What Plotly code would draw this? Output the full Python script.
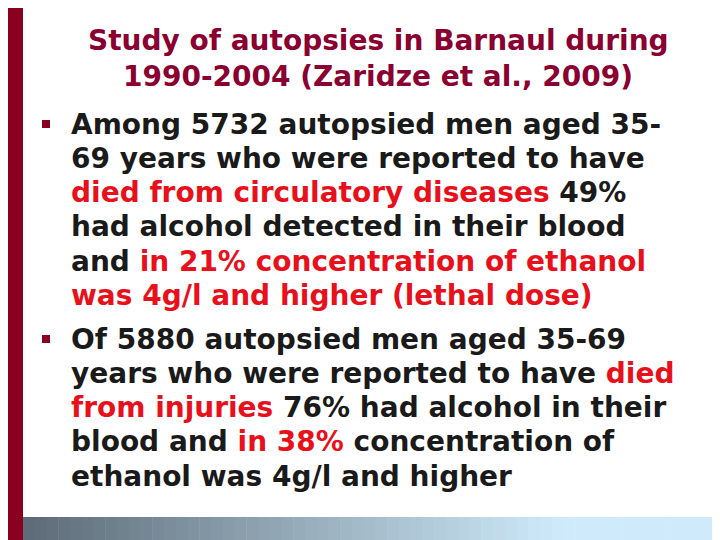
import plotly.graph_objects as go

title_lines = ["Study of autopsies in Barnaul during", "1990-2004 (Zaridze et al., 2009)"]
bullet1 = [
    "Among 5732 autopsied men aged 35-",
    "69 years who were reported to have",
    "<span style='color:#e8101a'>died from circulatory diseases</span> 49%",
    "had alcohol detected in their blood",
    "and <span style='color:#e8101a'>in 21% concentration of ethanol</span>",
    "<span style='color:#e8101a'>was 4g/l and higher (lethal dose)</span>",
]
bullet2 = [
    "Of 5880 autopsied men aged 35-69",
    "years who were reported to have <span style='color:#e8101a'>died</span>",
    "<span style='color:#e8101a'>from injuries</span> 76% had alcohol in their",
    "blood and <span style='color:#e8101a'>in 38%</span> concentration of",
    "ethanol was 4g/l and higher",
]

W, H = 720, 540
OFF = 8  # page body margin compensation
fig = go.Figure()
fig.update_layout(width=W, height=H, margin=dict(l=0, r=0, t=0, b=0),
                  paper_bgcolor="white", plot_bgcolor="white",
                  xaxis=dict(visible=False, range=[OFF, W + OFF]),
                  yaxis=dict(visible=False, range=[H + OFF, OFF]),
                  showlegend=False)
font = dict(family="DejaVu Sans", size=28, color="#1a1a1a")
shapes = []
shapes.append(dict(type="rect", xref="x", yref="y", x0=0, x1=23, y0=0, y1=H + OFF,
                   fillcolor="#8a0020", line_width=0, layer="below"))
n = 60
c0 = (0x5d, 0x6c, 0x78); c1 = (0xcf, 0xeb, 0xfb)
for i in range(n):
    t = i / (n - 1)
    c = tuple(int(c0[k] + (c1[k] - c0[k]) * min(1, t * 1.3)) for k in range(3))
    x0 = 23 + (W + OFF - 23) * i / n
    shapes.append(dict(type="rect", xref="x", yref="y", x0=x0, x1=23 + (W + OFF - 23) * (i + 1) / n + 0.5,
                       y0=517, y1=H + OFF, fillcolor="rgb(%d,%d,%d)" % c, line_width=0, layer="below"))
for by in (124, 339):
    shapes.append(dict(type="rect", xref="x", yref="y", x0=42, x1=50, y0=by - 4, y1=by + 4,
                       fillcolor="#8a0020", line_width=0))
fig.update_layout(shapes=shapes)

anns = []
for i, t in enumerate(title_lines):
    anns.append(dict(x=378, y=40 + 36 * i, xref="x", yref="y", text="<b>%s</b>" % t,
                     showarrow=False, xanchor="center", yanchor="middle",
                     font=dict(family="DejaVu Sans", size=28, color="#8a0030")))
for start, lines in ((124, bullet1), (339, bullet2)):
    for i, t in enumerate(lines):
        anns.append(dict(x=69, y=start + 34.3 * i, xref="x", yref="y", text="<b>%s</b>" % t,
                         showarrow=False, xanchor="left", yanchor="middle", font=font))
fig.update_layout(annotations=anns)
fig.write_html("out.html")
